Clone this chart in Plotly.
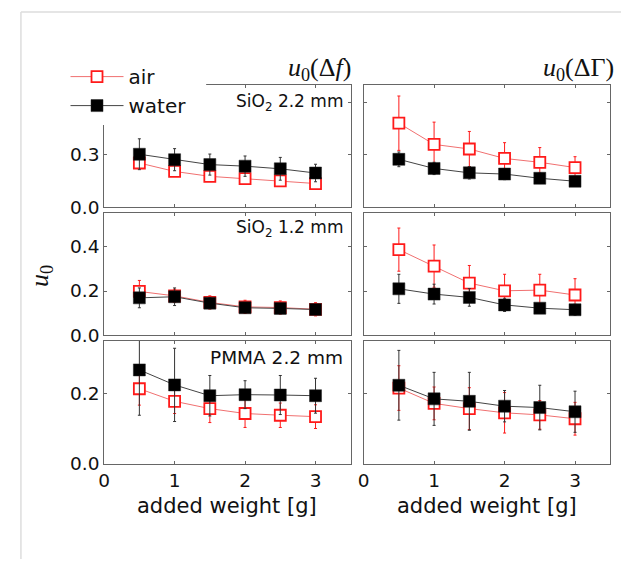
import plotly.graph_objects as go
from plotly.subplots import make_subplots

# the page body adds an 8px margin; positions below are window pixels
OFF = 8
FW, FH = 629, 561


def px(X):
    return (X - OFF) / FW


def py(Y):
    return 1 - (Y - OFF) / FH


weights = [0.5, 1.0, 1.5, 2.0, 2.5, 3.0]

# SiO2 2.2 mm, u0(Δf)
a_air = [0.253, 0.205, 0.177, 0.164, 0.151, 0.136]
a_air_err = [0.028, 0.025, 0.025, 0.02, 0.02, 0.02]
a_water = [0.303, 0.272, 0.244, 0.235, 0.220, 0.196]
a_water_err = [0.088, 0.063, 0.060, 0.058, 0.065, 0.050]

# SiO2 2.2 mm, u0(ΔΓ)
b_air = [0.480, 0.359, 0.333, 0.279, 0.257, 0.227]
b_air_err = [0.155, 0.127, 0.100, 0.090, 0.084, 0.062]
b_water = [0.274, 0.222, 0.197, 0.190, 0.166, 0.149]
b_water_err = [0.042, 0.035, 0.035, 0.032, 0.030, 0.025]

# SiO2 1.2 mm, u0(Δf)
c_air = [0.198, 0.178, 0.148, 0.128, 0.125, 0.117]
c_air_err = [0.050, 0.030, 0.030, 0.030, 0.030, 0.030]
c_water = [0.169, 0.174, 0.145, 0.124, 0.121, 0.116]
c_water_err = [0.045, 0.040, 0.025, 0.020, 0.020, 0.020]

# SiO2 1.2 mm, u0(ΔΓ)
d_air = [0.388, 0.313, 0.236, 0.201, 0.204, 0.182]
d_air_err = [0.098, 0.096, 0.080, 0.075, 0.072, 0.074]
d_water = [0.210, 0.186, 0.171, 0.137, 0.122, 0.115]
d_water_err = [0.066, 0.045, 0.040, 0.030, 0.020, 0.025]

# PMMA 2.2 mm, u0(Δf)
e_air = [0.215, 0.179, 0.158, 0.144, 0.139, 0.135]
e_air_err = [0.047, 0.035, 0.040, 0.040, 0.035, 0.034]
e_water = [0.269, 0.226, 0.195, 0.198, 0.197, 0.195]
e_water_err = [0.130, 0.105, 0.058, 0.040, 0.056, 0.050]

# PMMA 2.2 mm, u0(ΔΓ)
f_air = [0.217, 0.173, 0.158, 0.146, 0.140, 0.129]
f_air_err = [0.064, 0.047, 0.060, 0.058, 0.041, 0.047]
f_water = [0.225, 0.186, 0.179, 0.165, 0.161, 0.149]
f_water_err = [0.100, 0.076, 0.083, 0.045, 0.064, 0.059]

panels = [
    (1, 1, a_air, a_air_err, a_water, a_water_err),
    (1, 2, b_air, b_air_err, b_water, b_water_err),
    (2, 1, c_air, c_air_err, c_water, c_water_err),
    (2, 2, d_air, d_air_err, d_water, d_water_err),
    (3, 1, e_air, e_air_err, e_water, e_water_err),
    (3, 2, f_air, f_air_err, f_water, f_water_err),
]

row_ranges = {1: [0, 0.7], 2: [0, 0.553], 3: [0, 0.352]}
row_ticks = {1: [0, 0.3, 0.6], 2: [0, 0.2, 0.4], 3: [0, 0.2]}
row_ticktext = {1: ["0.0", "0.3", ""], 2: ["0.0", "0.2", "0.4"], 3: ["0.0", "0.2"]}
x_ticks = [0, 1, 2, 3]

fig = make_subplots(rows=3, cols=2)

RED = "#ff1a1a"
RED_LINE = "#f07070"
BLACK = "#000000"
BLACK_LINE = "#444444"

for r, c, air, air_err, water, water_err in panels:
    show = (r == 1 and c == 1)
    fig.add_trace(go.Scatter(
        x=weights, y=air, name="air", mode="lines+markers",
        line=dict(color=RED_LINE, width=1),
        marker=dict(symbol="square", size=11, color="white",
                    line=dict(color=RED, width=1.8)),
        error_y=dict(type="data", array=air_err, color=RED, thickness=1, width=1.5),
        showlegend=show, legendrank=1,
    ), row=r, col=c)
    fig.add_trace(go.Scatter(
        x=weights, y=water, name="water", mode="lines+markers",
        line=dict(color=BLACK_LINE, width=1),
        marker=dict(symbol="square", size=12, color=BLACK,
                    line=dict(color="#222222", width=0.5)),
        error_y=dict(type="data", array=water_err, color="#333333", thickness=1, width=1.5),
        showlegend=show, legendrank=2,
    ), row=r, col=c)

# panel edges in window pixels
col_px = {1: (99, 348), 2: (361, 610)}
row_px = {1: (86, 211), 2: (217, 341), 3: (347, 472)}

AX = "#666666"
FONT = "DejaVu Sans, sans-serif"
TXT = "#111111"
for r in (1, 2, 3):
    for c in (1, 2):
        x0, x1 = col_px[c]
        y0, y1 = row_px[r]
        fig.update_xaxes(
            domain=[px(x0), px(x1)], range=[0, 3.5],
            tickvals=x_ticks, showticklabels=(r == 3),
            ticks="inside", ticklen=3, tickcolor=AX,
            showline=True, linecolor=AX, linewidth=1, mirror="ticks",
            showgrid=False, zeroline=False,
            tickfont=dict(size=18.5, color=TXT, family=FONT),
            row=r, col=c)
        fig.update_yaxes(
            domain=[py(y1), py(y0)], range=row_ranges[r],
            tickvals=row_ticks[r], ticktext=row_ticktext[r],
            showticklabels=(c == 1),
            ticks="inside", ticklen=3, tickcolor=AX,
            showline=True, linecolor=AX, linewidth=1, mirror="ticks",
            showgrid=False, zeroline=False,
            tickfont=dict(size=18.5, color=TXT, family=FONT),
            row=r, col=c)

shapes = [
    # outer light frame
    dict(type="line", xref="paper", yref="paper", x0=px(15), x1=1, y0=py(12), y1=py(12),
         line=dict(color="#dddddd", width=1.5)),
    dict(type="line", xref="paper", yref="paper", x0=px(15), x1=px(15), y0=0, y1=py(12),
         line=dict(color="#dddddd", width=1.5)),
    # legend background covering top-left corner of first panel
    dict(type="rect", xref="paper", yref="paper", x0=px(45), x1=px(202),
         y0=py(127), y1=py(55), fillcolor="white", line=dict(width=0),
         layer="above"),
]

SERIF = "Liberation Serif, Times New Roman, serif"
annotations = [
    dict(text="<i>u</i><sub>0</sub>(Δ<i>f</i>)", x=px(350), y=py(70), xanchor="right",
         yanchor="middle", font=dict(size=26, family=SERIF, color=TXT)),
    dict(text="<i>u</i><sub>0</sub>(ΔΓ)", x=px(616), y=py(70), xanchor="right",
         yanchor="middle", font=dict(size=26, family=SERIF, color=TXT)),
    dict(text="<i>u</i><sub>0</sub>", x=px(35), y=py(281), textangle=-90,
         xanchor="center", yanchor="middle", font=dict(size=26, family=SERIF, color=TXT)),
    dict(text="SiO<sub>2</sub> 2.2 mm", x=px(342), y=py(104), xanchor="right", yanchor="middle",
         font=dict(size=17, family=FONT, color=TXT)),
    dict(text="SiO<sub>2</sub> 1.2 mm", x=px(342), y=py(232), xanchor="right", yanchor="middle",
         font=dict(size=17, family=FONT, color=TXT)),
    dict(text="PMMA 2.2 mm", x=px(342), y=py(364), xanchor="right", yanchor="middle",
         font=dict(size=18.5, family=FONT, color=TXT)),
    dict(text="added weight [g]", x=px(223.5), y=py(515), xanchor="center", yanchor="middle",
         font=dict(size=21, family=FONT, color=TXT)),
    dict(text="added weight [g]", x=px(485.5), y=py(515), xanchor="center", yanchor="middle",
         font=dict(size=21, family=FONT, color=TXT)),
]
for a in annotations:
    a.update(xref="paper", yref="paper", showarrow=False)

fig.update_layout(
    width=FW, height=FH,
    margin=dict(l=0, r=0, t=0, b=0),
    paper_bgcolor="white", plot_bgcolor="white",
    font=dict(family=FONT, color=TXT),
    shapes=shapes, annotations=annotations,
    legend=dict(x=px(60), y=py(58), xanchor="left", yanchor="top",
                bgcolor="rgba(0,0,0,0)", font=dict(size=20, family=FONT, color=TXT),
                itemwidth=53, tracegroupgap=0),
)

fig.write_html("out.html")
